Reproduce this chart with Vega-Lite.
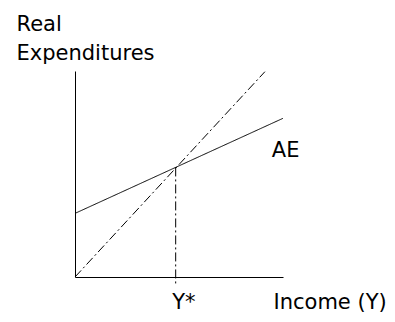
{
  "$schema": "https://vega.github.io/schema/vega-lite/v6.json",
  "width": 208,
  "height": 206,
  "autosize": {"type": "none"},
  "padding": {"left": 75, "top": 71, "right": 112, "bottom": 45},
  "background": "white",
  "config": {"view": {"stroke": null}, "font": "DejaVu Sans"},
  "datasets": {
    "lines": [
      {"series": "AE", "income": 0, "expenditure": 28.1},
      {"series": "AE", "income": 100, "expenditure": 70.1},
      {"series": "45-degree", "income": 0, "expenditure": 0},
      {"series": "45-degree", "income": 91.3, "expenditure": 90.7},
      {"series": "equilibrium", "income": 48.4, "expenditure": 48.4},
      {"series": "equilibrium", "income": 48.4, "expenditure": -3.5}
    ],
    "labels": [
      {"label": "AE", "income": 94.6, "expenditure": 53}
    ]
  },
  "layer": [
    {
      "data": {"name": "lines"},
      "mark": {"type": "line", "color": "black", "strokeWidth": 1},
      "encoding": {
        "x": {
          "field": "income", "type": "quantitative",
          "scale": {"domain": [0, 100], "nice": false, "zero": false},
          "axis": {
            "values": [48.4], "labelExpr": "'Y*'", "ticks": false, "tickSize": 0, "grid": false,
            "domainColor": "black", "domainWidth": 1,
            "labelFont": "DejaVu Sans", "labelFontSize": 21, "labelColor": "black",
            "labelAlign": "left", "labelBaseline": "alphabetic", "labelPadding": 31, "labelOffset": -4,
            "labelFlush": false, "labelOverlap": false,
            "title": "Income (Y)", "titleX": 198, "titleY": 31, "titleAlign": "left", "titleAnchor": null,
            "titleBaseline": "alphabetic", "titleFontWeight": "normal", "titleFontSize": 21,
            "titleColor": "black", "titleFont": "DejaVu Sans"
          }
        },
        "y": {
          "field": "expenditure", "type": "quantitative",
          "scale": {"domain": [0, 91], "nice": false, "zero": false},
          "axis": {
            "ticks": false, "labels": false, "grid": false,
            "domainColor": "black", "domainWidth": 1,
            "title": ["Real", "Expenditures"], "titleAngle": 0, "titleAlign": "left",
            "titleBaseline": "alphabetic", "titleX": -59, "titleY": -41, "titleLineHeight": 29,
            "titleFontWeight": "normal", "titleFontSize": 21, "titleColor": "black", "titleFont": "DejaVu Sans"
          }
        },
        "detail": {"field": "series"},
        "strokeDash": {
          "field": "series", "type": "nominal",
          "scale": {"domain": ["AE", "45-degree", "equilibrium"], "range": [[1, 0], [9, 3, 2, 3], [9, 3, 2, 3]]},
          "legend": null
        }
      }
    },
    {
      "data": {"name": "labels"},
      "mark": {"type": "text", "font": "DejaVu Sans", "fontSize": 21, "align": "left", "baseline": "alphabetic", "color": "black"},
      "encoding": {
        "x": {"field": "income", "type": "quantitative"},
        "y": {"field": "expenditure", "type": "quantitative"},
        "text": {"field": "label"}
      }
    }
  ]
}
